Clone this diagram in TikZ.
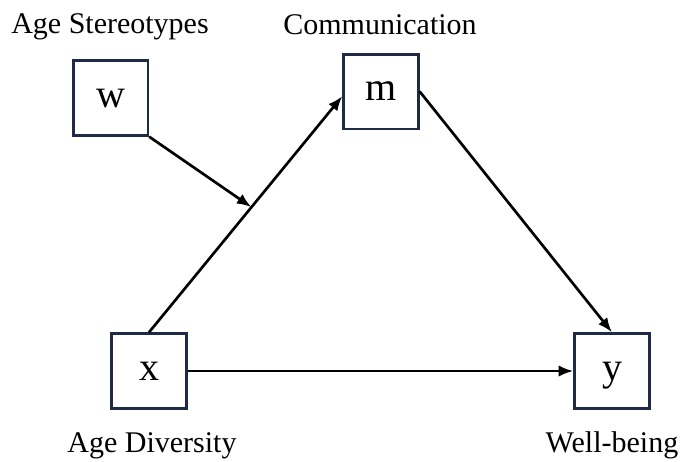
\documentclass[tikz,border=0pt]{standalone}
\usepackage{fontspec}
\setmainfont{Liberation Serif}
\usetikzlibrary{arrows.meta}
\definecolor{boxcol}{RGB}{31,42,68}
\tikzset{
  varbox/.style={draw=boxcol, line width=2pt, minimum width=56pt, minimum height=56pt, inner sep=0pt, text height=14pt, text depth=0pt, font=\fontsize{30}{32}\selectfont, fill=white},
  lbl/.style={anchor=base, inner sep=0pt, font=\fontsize{22.5}{25}\selectfont},
  conn/.style={line width=2pt, -{Latex[length=11pt,width=8.5pt]}}
}
\begin{document}
\begin{tikzpicture}[x=0.75pt,y=-0.75pt]
\useasboundingbox (0,0) rectangle (681,461);
\node[varbox] (w) at (110.5,98) {w};
\node[varbox] (m) at (381,91.5) {m};
\node[varbox] (x) at (149,371) {x};
\node[varbox] (y) at (612,371) {y};
\node[lbl] (lw) at (110,33) {Age Stereotypes};
\node[lbl] (lm) at (380,34) {Communication};
\node[lbl] (lx) at (152,452) {Age Diversity};
\node[lbl] (ly) at (612,452) {Well-being};
\draw[conn] (x.north) -- ([yshift=-3.5pt]m.west) coordinate[pos=0.53] (mid);
\draw[conn] (m.east) -- (y.north);
\draw[conn] (x.east) -- (y.west);
\draw[conn] (w.south east) -- (mid);
\end{tikzpicture}
\end{document}
